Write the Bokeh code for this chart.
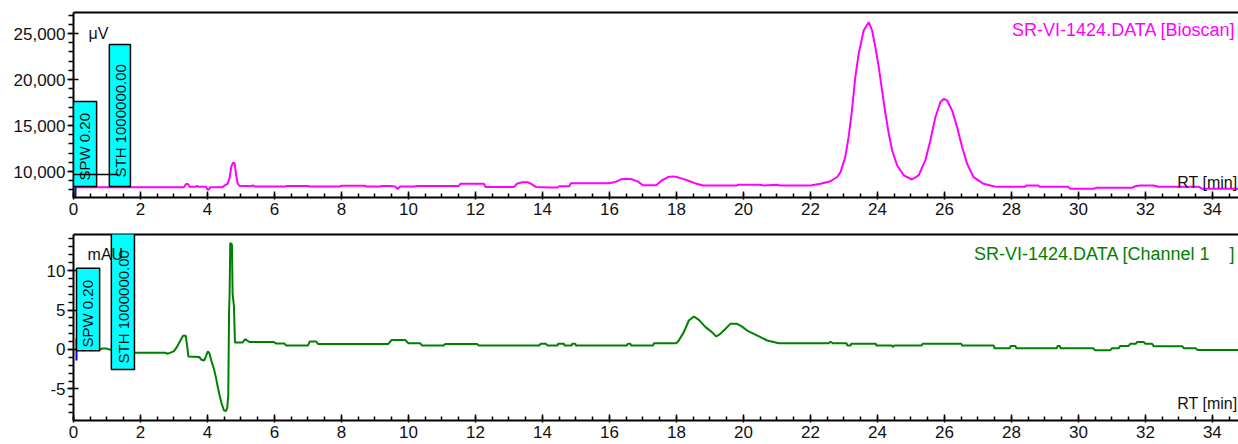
from bokeh.plotting import figure
from bokeh.layouts import column
from bokeh.models import (Range1d, LinearAxis, SingleIntervalTicker, FixedTicker,
                          NumeralTickFormatter, BoxAnnotation, Label)
from bokeh.embed import file_html
from bokeh.resources import INLINE

FONT = "Liberation Sans"

# ---------------- data ----------------
bioscan_t = [0.06, 3.30, 3.36, 3.42, 3.46, 3.66, 3.69, 3.72, 3.96, 4.00, 4.05, 4.08, 4.45, 4.52, 4.60,
             4.66, 4.71, 4.76, 4.81, 4.86, 4.90, 4.95, 5.30, 5.35, 5.40, 6.30, 6.40, 7.00, 7.05, 7.95,
             8.00, 8.70, 8.75, 9.15, 9.20, 9.45, 9.60, 9.68, 9.75, 10.20, 10.25, 11.50, 11.55, 12.25,
             12.30, 13.15, 13.25, 13.40, 13.55, 13.64, 13.80, 14.24, 14.45, 14.50, 14.80, 14.85, 16.00,
             16.20, 16.35, 16.50, 16.68, 16.85, 17.00, 17.40, 17.55, 17.75, 17.90, 18.00, 18.20, 18.42,
             18.60, 18.80, 19.80, 19.85, 20.50, 20.60, 21.00, 21.10, 22.00, 22.30, 22.60, 22.80, 22.90,
             23.04, 23.14, 23.24, 23.34, 23.44, 23.59, 23.74, 23.84, 23.94, 24.04, 24.14, 24.24, 24.34,
             24.44, 24.59, 24.79, 25.03, 25.23, 25.43, 25.58, 25.73, 25.88, 25.98, 26.08, 26.23, 26.38,
             26.53, 26.68, 26.87, 27.17, 27.47, 27.60, 28.40, 28.45, 28.80, 28.85, 29.70, 29.76, 30.45,
             30.55, 31.60, 31.70, 31.85, 32.24, 32.40, 33.60, 33.70, 34.78]
bioscan_uv = [8300, 8300, 8650, 8650, 8350, 8350, 8450, 8330, 8330, 8050, 8050, 8300, 8300, 8500, 8650,
              9300, 10500, 10950, 10900, 9500, 8700, 8450, 8400, 8500, 8380, 8380, 8430, 8430, 8370, 8370,
              8450, 8450, 8370, 8370, 8430, 8430, 8370, 8100, 8370, 8370, 8430, 8430, 8660, 8660,
              8320, 8320, 8700, 8840, 8840, 8700, 8320, 8250, 8250, 8400, 8400, 8730, 8730,
              8900, 9150, 9220, 9150, 8900, 8500, 8500, 9000, 9400, 9470, 9400, 9200, 8910,
              8660, 8480, 8480, 8560, 8560, 8480, 8560, 8480, 8480, 8660, 8950, 9400, 9930,
              11560, 13730, 16630, 20250, 22790, 25330, 26230, 25330, 23510, 21340, 18800, 16270, 14100,
              12280, 10650, 9570, 9130, 9570, 11200, 13370, 15900, 17530, 17900, 17720, 16630, 14820,
              12640, 10830, 9380, 8660, 8400, 8330, 8330, 8480, 8480, 8330, 8330, 8120, 8120,
              8230, 8230, 8400, 8480, 8480, 8340, 8340, 8120, 8120]

channel_t = [0.10, 0.80, 0.85, 1.00, 1.05, 1.40, 1.85, 2.75, 2.80, 2.90, 3.00, 3.10, 3.20, 3.27, 3.35,
             3.40, 3.43, 3.75, 3.82, 3.90, 3.95, 4.01, 4.06, 4.12, 4.19, 4.25, 4.30, 4.35, 4.42, 4.49,
             4.55, 4.59, 4.62, 4.645, 4.66, 4.68, 4.73, 4.75, 4.79, 4.82, 5.05, 5.12, 5.20, 5.25, 5.98,
             6.05, 6.30, 6.35, 7.00, 7.05, 7.25, 7.30, 9.40, 9.50, 9.90, 10.00, 10.35, 10.40, 11.05,
             11.10, 12.05, 12.10, 13.90, 13.95, 14.10, 14.15, 14.45, 14.47, 14.64, 14.66, 14.87, 14.89,
             14.98, 15.00, 16.52, 16.55, 16.62, 16.65, 17.30, 17.33, 18.00, 18.07, 18.22, 18.37, 18.52,
             18.67, 18.87, 19.06, 19.19, 19.31, 19.46, 19.61, 19.81, 19.96, 20.11, 20.31, 20.51, 20.71,
             20.90, 21.05, 22.55, 22.60, 22.68, 23.08, 23.10, 23.20, 23.22, 23.95, 23.97, 24.44, 24.46,
             24.50, 25.32, 25.35, 26.50, 26.53, 27.47, 27.50, 27.95, 27.98, 28.12, 28.15, 29.35, 29.38,
             29.44, 29.47, 30.45, 30.50, 30.95, 31.00, 31.20, 31.25, 31.50, 31.55, 31.72, 31.75, 31.95,
             32.00, 32.20, 32.25, 33.10, 33.15, 33.50, 33.55, 34.78]
channel_mau = [0.0, 0.0, 0.12, 0.12, 0.0, 0.0, -0.4, -0.4, -0.55, -0.4, -0.2, 0.4, 1.2, 1.75, 1.75,
               0.2, -0.9, -0.95, -1.3, -1.4, -0.9, -0.25, -0.5, -1.5, -2.4, -3.5, -4.6, -5.6, -6.8, -7.7,
               -7.8, -7.4, -5.8, 5.0, 7.0, 13.5, 13.3, 7.0, 5.5, 0.9, 0.9, 1.3, 1.1, 0.95, 0.95,
               0.75, 0.75, 0.5, 0.5, 1.0, 1.0, 0.7, 0.7, 1.2, 1.2, 0.8, 0.8, 0.5, 0.5,
               0.7, 0.7, 0.5, 0.5, 0.72, 0.72, 0.5, 0.5, 0.74, 0.74, 0.5, 0.5, 0.74,
               0.74, 0.5, 0.5, 0.74, 0.74, 0.5, 0.5, 0.8, 0.8, 1.14, 2.2, 3.67, 4.18,
               3.76, 2.83, 2.2, 1.65, 1.98, 2.6, 3.25, 3.25, 2.9, 2.4, 1.98, 1.56, 1.14,
               0.95, 0.78, 0.78, 0.98, 0.78, 0.78, 0.5, 0.5, 0.74, 0.74, 0.5, 0.5, 0.3,
               0.5, 0.5, 0.74, 0.74, 0.5, 0.5, 0.15, 0.15, 0.45, 0.45, 0.15, 0.15, 0.45,
               0.45, 0.15, 0.15, -0.1, -0.1, 0.15, 0.15, 0.45, 0.45, 0.72, 0.72, 0.95, 0.95,
               0.72, 0.72, 0.42, 0.42, 0.15, 0.15, -0.05, -0.05]

x_tick_step = 2          # min
uv_tick_step = 5000      # µV
mau_tick_step = 5        # mAU

top_title = "SR-VI-1424.DATA [Bioscan]"
bottom_title = "SR-VI-1424.DATA [Channel 1\u00a0\u00a0\u00a0\u00a0]"
x_label = "RT [min]"

X_END = 34.78
MAGENTA = "#FF00FF"
GREEN = "#008000"
CYAN = "#00FFFF"
TXT = "#111111"


def make_fig(height, y0, y1, b_top, b_bottom, ystep, fmt):
    p = figure(width=1238, height=height, x_range=Range1d(0, X_END), y_range=Range1d(y0, y1),
               output_backend="svg", toolbar_location=None, x_axis_type=None, y_axis_type=None,
               min_border_left=73, min_border_right=0, min_border_top=b_top,
               min_border_bottom=b_bottom)
    p.outline_line_color = None
    p.background_fill_color = "white"
    p.border_fill_color = "white"
    xa = LinearAxis(ticker=SingleIntervalTicker(interval=x_tick_step, num_minor_ticks=4),
                    axis_line_width=2, axis_line_color="black",
                    major_tick_in=6, major_tick_out=2, minor_tick_in=4, minor_tick_out=0,
                    major_tick_line_width=1.5, minor_tick_line_width=1.5,
                    major_label_standoff=3, major_label_text_font=FONT,
                    major_label_text_font_size="17px", major_label_text_color=TXT,
                    formatter=NumeralTickFormatter(format="0"))
    p.add_layout(xa, "below")
    ya = LinearAxis(ticker=SingleIntervalTicker(interval=ystep, num_minor_ticks=5),
                    axis_line_width=2, axis_line_color="black",
                    major_tick_in=5, major_tick_out=6, minor_tick_in=0, minor_tick_out=5,
                    major_tick_line_width=1.5, minor_tick_line_width=1.5,
                    major_label_standoff=2, major_label_text_font=FONT,
                    major_label_text_font_size="17px", major_label_text_color=TXT,
                    formatter=NumeralTickFormatter(format=fmt))
    p.add_layout(ya, "left")
    top = LinearAxis(ticker=FixedTicker(ticks=[], minor_ticks=[]), axis_line_width=2,
                     axis_line_color="black", major_label_text_font_size="0px")
    p.add_layout(top, "above")
    return p


def lbl(p, x, y, text, color=TXT, size="16px", align="left", angle=0, x_offset=0):
    p.add_layout(Label(x=x, y=y, text=text, text_color=color, text_font=FONT,
                       text_font_size=size, text_align=align, text_baseline="middle",
                       angle=angle, angle_units="deg", x_offset=x_offset))


def box(p, l, r, b, t):
    p.add_layout(BoxAnnotation(left=l, right=r, bottom=b, top=t, fill_color=CYAN, fill_alpha=1.0,
                               line_color="black", line_width=1.5, line_alpha=1.0))


# ---------------- top panel: Bioscan ----------------
p1 = make_fig(223, 7174, 27283, 12, 26, uv_tick_step, "0,0")
p1.line(bioscan_t, bioscan_uv, line_color=MAGENTA, line_width=2)
p1.segment(x0=[0.06], y0=[7174], x1=[0.06], y1=[8300], line_color="#0000FF", line_width=2)
lbl(p1, 0.45, 25000, "μV")
box(p1, 0.0, 0.69, 8370, 17610)
box(p1, 1.07, 1.70, 8370, 23805)
lbl(p1, 0.34, 9020, "SPW 0.20", size="15px", angle=90)
lbl(p1, 1.39, 9350, "STH 1000000.00", size="15px", angle=90)
thr1 = p1.segment(x0=[0.0], y0=[9674], x1=[1.34], y1=[9674], line_color="black", line_width=1.5)
thr1.level = "overlay"
lbl(p1, X_END, 25330, top_title, color=MAGENTA, size="18px", align="right", x_offset=-3)
lbl(p1, X_END, 8837, x_label, align="right", x_offset=-1)

# ---------------- bottom panel: Channel 1 ----------------
p2 = make_fig(221, -8.99, 14.56, 11, 24, mau_tick_step, "0")
p2.line(channel_t, channel_mau, line_color=GREEN, line_width=2)
p2.segment(x0=[0.09], y0=[-1.4], x1=[0.09], y1=[1.4], line_color="#0000FF", line_width=2)
box(p2, 0.09, 0.78, -0.15, 10.3)
box(p2, 1.13, 1.82, -2.53, 15.2)
lbl(p2, 0.43, 0.25, "SPW 0.20", size="15px", angle=90)
lbl(p2, 1.48, -1.77, "STH 1000000.00", size="15px", angle=90)
lbl(p2, 0.42, 12.0, "mAU")
lbl(p2, X_END, 12.15, bottom_title, color=GREEN, size="18px", align="right", x_offset=-3)
lbl(p2, X_END, -6.84, x_label, align="right", x_offset=-1)

layout = column(p1, p2, spacing=0)
open("out.html", "w").write(file_html(layout, INLINE))
